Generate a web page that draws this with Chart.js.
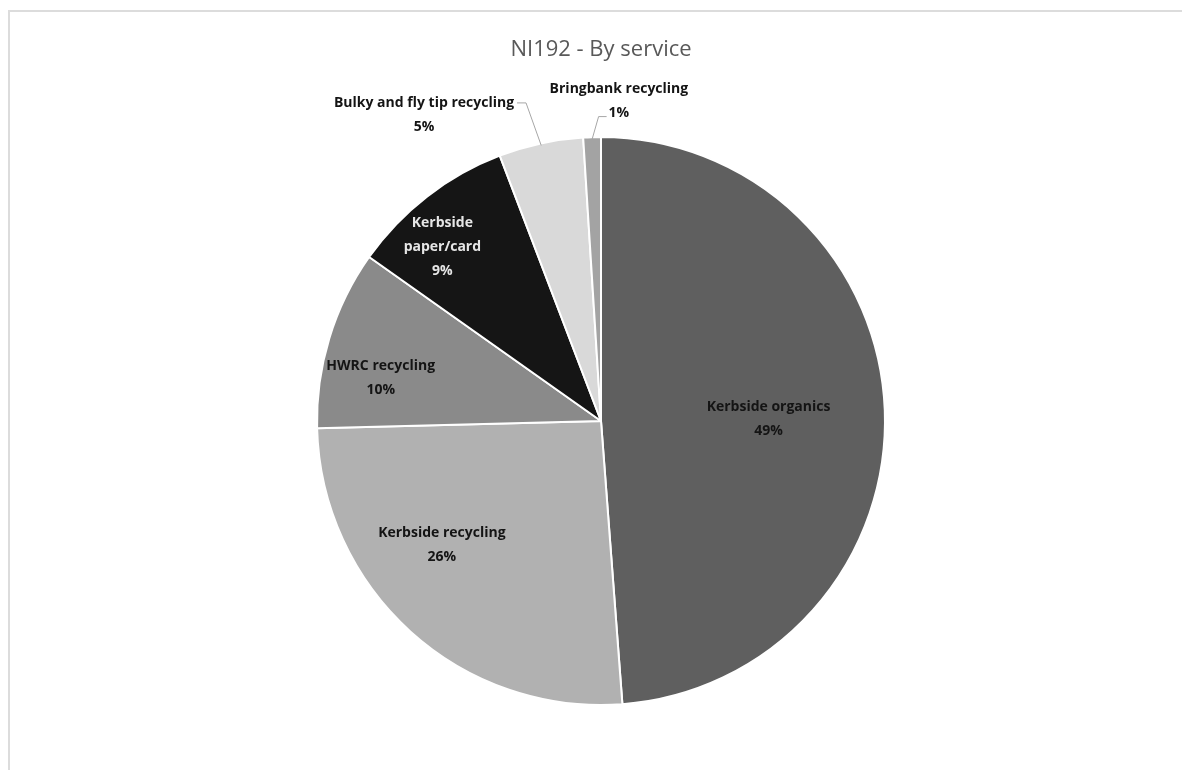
<!DOCTYPE html>
<html>
<head>
<meta charset="utf-8">
<script src="https://cdn.jsdelivr.net/npm/chart.js@4.4.1/dist/chart.umd.min.js"></script>
<style>
  html, body { margin: 0; padding: 0; background: #fff; overflow: hidden; }
  #wrap { position: relative; width: 1182px; height: 770px; }
  #frame { position: absolute; left: 8px; top: 10px; width: 1200px; height: 800px;
           border-left: 2px solid #dcdcdc; border-top: 2px solid #dcdcdc; }
  canvas { position: absolute; left: 0; top: 0; }
</style>
</head>
<body>
<div id="wrap">
  <div id="frame"></div>
  <canvas id="pie" width="1182" height="770" role="img"
          aria-label="Pie chart NI192 by service: Kerbside organics 49%, Kerbside recycling 26%, HWRC recycling 10%, Kerbside paper/card 9%, Bulky and fly tip recycling 5%, Bringbank recycling 1%"></canvas>
</div>
<script>
// data, clockwise from 12 o'clock
const services = ['Kerbside organics', 'Kerbside recycling', 'HWRC recycling',
                  'Kerbside paper/card', 'Bulky and fly tip recycling', 'Bringbank recycling']
const shares = [48.8, 25.8, 10.2, 9.4, 4.8, 1.0]
const shareLabels = ['49%', '26%', '10%', '9%', '5%', '1%']
const labelLines = [['Kerbside organics'], ['Kerbside recycling'], ['HWRC recycling'],
                    ['Kerbside', 'paper/card'], ['Bulky and fly tip recycling'], ['Bringbank recycling']]
const sliceColors = ['#5f5f5f', '#b1b1b1', '#8a8a8a', '#151515', '#d9d9d9', '#a3a3a3']
const textColors = ['#141414', '#141414', '#141414', '#e6e6e6', '#141414', '#141414']

// label placement: angle offset (deg) from slice middle, distance as fraction of radius
const placement = [
  { da: 1.5, rf: 0.59 },
  { da: 10, rf: 0.71 },
  { da: -6, rf: 0.79 },
  { da: -4.5, rf: 0.83 },
  { da: -17.8, rf: 1.245, outside: true },
  { da: 5, rf: 1.13, outside: true }
]

const FONT = 'bold 14px "Open Sans", "DejaVu Sans", sans-serif'
const LINE_H = 24

const sliceLabels = {
  id: 'sliceLabels',
  afterDatasetsDraw(chart) {
    const g = chart.ctx
    const arcs = chart.getDatasetMeta(0).data
    g.save()
    g.font = FONT
    g.textAlign = 'center'
    g.textBaseline = 'middle'
    arcs.forEach((arc, i) => {
      const p = placement[i]
      const mid = (arc.startAngle + arc.endAngle) / 2
      const a = mid + p.da * Math.PI / 180
      const r = arc.outerRadius * p.rf
      const cx = arc.x + Math.cos(a) * r
      const cy = arc.y + Math.sin(a) * r
      const lines = labelLines[i].concat([shareLabels[i]])
      const top = cy - (lines.length - 1) * LINE_H / 2
      g.fillStyle = textColors[i]
      lines.forEach((t, k) => g.fillText(t, cx, top + k * LINE_H))

      if (p.outside) {
        // leader line from slice edge to label
        const ex = arc.x + Math.cos(mid) * (arc.outerRadius - 2)
        const ey = arc.y + Math.sin(mid) * (arc.outerRadius - 2)
        let hx, hy, endx
        if (cx < ex) {
          const w = g.measureText(lines[0]).width
          hx = cx + w / 2 + 12; hy = top; endx = cx + w / 2 + 3
        } else {
          const w = g.measureText(lines[1]).width
          hx = cx - w / 2 - 10; hy = top + LINE_H + 4; endx = cx - w / 2 - 2
        }
        g.strokeStyle = '#a6a6a6'
        g.lineWidth = 1
        g.beginPath()
        g.moveTo(ex, ey)
        g.lineTo(hx, hy)
        g.lineTo(endx, hy)
        g.stroke()
      }
    })
    g.restore()
  }
}

new Chart(document.getElementById('pie'), {
  type: 'pie',
  data: {
    labels: services,
    datasets: [{
      data: shares,
      backgroundColor: sliceColors,
      borderColor: '#ffffff',
      borderWidth: 2
    }]
  },
  options: {
    responsive: false,
    animation: false,
    layout: { padding: { top: 37, bottom: 64, left: 300, right: 280 } },
    plugins: {
      legend: { display: false },
      tooltip: { enabled: false },
      title: {
        display: true,
        text: 'NI192 - By service',
        color: '#595959',
        font: { family: '"Open Sans", "DejaVu Sans", sans-serif', size: 22, weight: 'normal' },
        padding: { top: 0, bottom: 72.6 }
      }
    }
  },
  plugins: [sliceLabels]
})
</script>
</body>
</html>
